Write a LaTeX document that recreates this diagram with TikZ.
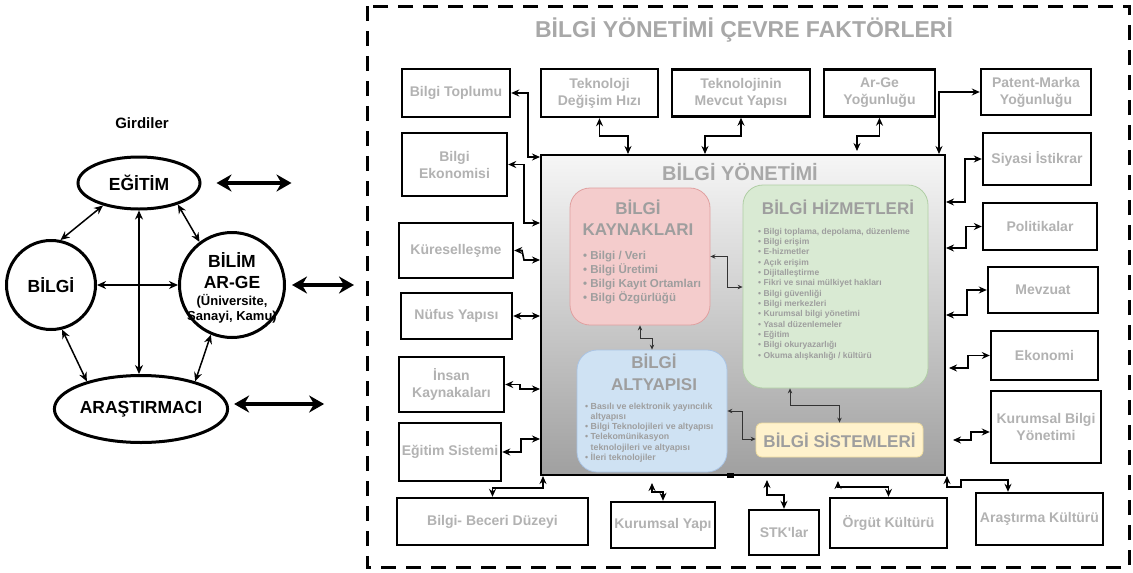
\documentclass[tikz,border=0pt]{standalone}
\usepackage{fontspec}
\setmainfont{Liberation Sans}
\usetikzlibrary{arrows.meta,shapes.geometric,positioning}
\definecolor{soluk}{RGB}{178,178,178}
\definecolor{baslikgri}{RGB}{168,168,168}
\definecolor{icgri}{RGB}{158,158,158}
\definecolor{pembe}{RGB}{244,204,204}
\definecolor{pembecizgi}{RGB}{224,160,160}
\definecolor{yesil}{RGB}{217,234,211}
\definecolor{yesilcizgi}{RGB}{176,206,165}
\definecolor{mavi}{RGB}{207,226,243}
\definecolor{mavicizgi}{RGB}{170,196,228}
\definecolor{sari}{RGB}{255,242,204}
\definecolor{saricizgi}{RGB}{240,222,160}
\definecolor{ustrenk}{RGB}{246,246,246}
\definecolor{altrenk}{RGB}{160,160,160}
\tikzset{kutu/.style={draw=black,line width=2.4pt,fill=white,inner sep=0pt,align=center,
  text=soluk,font=\bfseries\fontsize{14}{17}\selectfont}}
\tikzset{ickutu/.style={line width=0.8pt,rounded corners=20pt,inner sep=0pt}}
\tikzset{yuvarlak/.style={draw=black,line width=3pt,inner sep=0pt,
  font=\bfseries\fontsize{17.5}{20}\selectfont}}
\tikzset{bag/.style={<->,line width=1.6pt,>={Stealth[length=8pt,width=7pt]}}}
\tikzset{icbag/.style={<->,draw=black!80,line width=0.9pt,>={Stealth[length=5pt,width=4.5pt]}}}
\tikzset{gbag/.style={<->,line width=1.5pt,>={Stealth[length=9pt,width=8pt]}}}
\tikzset{kalinok/.style={<->,line width=3.5pt,>={Stealth[length=15pt,width=17pt]}}}
\tikzset{madde/.style={align=left,inner sep=0pt,text=icgri}}

\begin{document}
\begin{tikzpicture}[x=1pt,y=-1pt]
          \useasboundingbox (0,0) rectangle (1133,573);
          % girdiler
          \node[font=\bfseries\fontsize{15}{17}\selectfont] (girdi) at (142,123) {Girdiler};
          \node[yuvarlak,ellipse,minimum width=122pt,minimum height=52pt] (egitim) at (139,183) {EĞİTİM};
          \node[yuvarlak,circle,minimum size=89pt] (bilgi) at (51,285) {BİLGİ};
          \node[yuvarlak,circle,minimum size=105pt] (bilim) at (232,285) {};
          \node[align=center,font=\bfseries\fontsize{17.5}{21}\selectfont] (bilimyazi) at (232,271) {BİLİM\\AR-GE};
          \node[align=center,font=\bfseries\fontsize{13}{14.5}\selectfont] (bilimalt) at (232,309) {(Üniversite,\\Sanayi, Kamu)};
          \node[yuvarlak,ellipse,minimum width=153pt,minimum height=67pt] (arastirmaci) at (141,409) {ARAŞTIRMACI};

          \draw[gbag] (egitim.212) -- (bilgi.78);
          \draw[gbag] (egitim.331) -- (bilim.127);
          \draw[gbag] (bilgi.284) -- (arastirmaci.153);
          \draw[gbag] (bilim.247) -- (arastirmaci.27);
          \draw[gbag] (egitim.south) -- (egitim.south |- arastirmaci.north);
          \draw[gbag] (bilgi.east) -- (bilim.west);

          \draw[kalinok] ([xshift=15pt]egitim.east) -- ++(75,0);
          \draw[kalinok] ([xshift=6pt]bilim.east) -- ++(62,0);
          \draw[kalinok] ([xshift=5pt,yshift=5pt]arastirmaci.east) -- ++(90,0);

          % cevre faktorleri
          \draw[line width=3pt,dash pattern=on 15pt off 10pt] (367,6) rectangle (1129,567);
          \node[font=\bfseries\fontsize{23}{26}\selectfont,text=baslikgri] (cevre) at (744,30) {BİLGİ YÖNETİMİ ÇEVRE FAKTÖRLERİ};

          \node[draw=black,line width=2pt,top color=ustrenk,bottom color=altrenk,minimum width=404pt,minimum height=320pt] (bym) at (743,315) {};
          \node[font=\bfseries\fontsize{20}{22}\selectfont,text=baslikgri] (bymad) at (740,172) {BİLGİ YÖNETİMİ};
          \fill (727,473) rectangle (734,478);

          \node[ickutu,fill=pembe,draw=pembecizgi,minimum width=140pt,minimum height=137pt] (kaynak) at (640,256.5) {};
          \node[ickutu,fill=yesil,draw=yesilcizgi,minimum width=185pt,minimum height=203pt] (hizmet) at (835.5,286.5) {};
          \node[ickutu,fill=mavi,draw=mavicizgi,minimum width=150pt,minimum height=122pt] (altyapi) at (652,411) {};
          \node[ickutu,rounded corners=6pt,fill=sari,draw=saricizgi,minimum width=167pt,minimum height=34pt] (sistem) at (839.5,440) {};

          \node[align=center,text=icgri,font=\bfseries\fontsize{17}{21}\selectfont] (kaynakad) at (638,217.5) {BİLGİ\\KAYNAKLARI};
          \node[text=icgri,font=\bfseries\fontsize{17}{20}\selectfont] (hizmetad) at (838,207) {BİLGİ HİZMETLERİ};
          \node[align=center,text=icgri,font=\bfseries\fontsize{17}{22}\selectfont] (altyapiad) at (654,372) {BİLGİ\\ALTYAPISI};
          \node[text=icgri,font=\bfseries\fontsize{17}{20}\selectfont] (sistemad) at (839.5,440) {BİLGİ SİSTEMLERİ};

          \node[madde,anchor=west,font=\bfseries\fontsize{11.5}{13.7}\selectfont] (kaynakliste) at (583,277.5)
            {\textbullet\ Bilgi / Veri\\\textbullet\ Bilgi Üretimi\\\textbullet\ Bilgi Kayıt Ortamları\\\textbullet\ Bilgi Özgürlüğü};
          \node[madde,anchor=west,font=\bfseries\fontsize{8.5}{10.33}\selectfont] (hizmetliste) at (758,294)
            {\textbullet\ Bilgi toplama, depolama, düzenleme\\\textbullet\ Bilgi erişim\\\textbullet\ E-hizmetler\\
             \textbullet\ Açık erişim\\\textbullet\ Dijitalleştirme\\\textbullet\ Fikri ve sınai mülkiyet hakları\\
             \textbullet\ Bilgi güvenliği\\\textbullet\ Bilgi merkezleri\\\textbullet\ Kurumsal bilgi yönetimi\\
             \textbullet\ Yasal düzenlemeler\\\textbullet\ Eğitim\\\textbullet\ Bilgi okuryazarlığı\\
             \textbullet\ Okuma alışkanlığı / kültürü};
          \node[madde,anchor=west,font=\bfseries\fontsize{8.8}{10.2}\selectfont] (altyapiliste) at (585,432.5)
            {\textbullet\ Basılı ve elektronik yayıncılık\\\hphantom{\textbullet\ }altyapısı\\
             \textbullet\ Bilgi Teknolojileri ve altyapısı\\\textbullet\ Telekomünikasyon\\
             \hphantom{\textbullet\ }teknolojileri ve altyapısı\\\textbullet\ İleri teknolojiler};

          \draw[icbag] (kaynak.east) -- (727,256.5) -- (727,287) -- (hizmet.west |- 0,287);
          \draw[icbag] (kaynak.south) -- (640,338) -- (652,338) -- (altyapi.north);
          \draw[icbag] (altyapi.east) -- (742,411) -- (742,439) -- (sistem.west |- 0,439);
          \draw[icbag] (790,0 |- hizmet.south) -- (790,405) -- (839.5,405) -- (sistem.north);

          % ust
          \node[kutu,minimum width=108pt,minimum height=48pt] (toplum) at (456,93) {Bilgi Toplumu};
          \node[kutu,minimum width=117pt,minimum height=48pt] (hiz) at (599.5,93) {Teknoloji\\Değişim Hızı};
          \node[kutu,minimum width=138pt,minimum height=47pt] (mevcut) at (741,93) {Teknolojinin\\Mevcut Yapısı};
          \node[kutu,minimum width=111pt,minimum height=47pt] (argeyog) at (879.5,93) {Ar-Ge\\Yoğunluğu};
          \node[kutu,minimum width=110pt,minimum height=46pt] (patent) at (1036,92) {Patent-Marka\\Yoğunluğu};
          % sol
          \node[kutu,minimum width=105pt,minimum height=63pt] (ekonomi) at (454.5,164.5) {Bilgi\\Ekonomisi};
          \node[kutu,minimum width=114pt,minimum height=55pt] (kuresel) at (456,250.5) {Küreselleşme};
          \node[kutu,minimum width=111pt,minimum height=46pt] (nufus) at (456.5,316) {Nüfus Yapısı};
          \node[kutu,minimum width=105pt,minimum height=55pt] (insan) at (451.5,384.5) {İnsan\\Kaynakaları};
          \node[kutu,minimum width=102pt,minimum height=58pt] (egsis) at (450,452) {Eğitim Sistemi};
          % sag
          \node[kutu,minimum width=108pt,minimum height=52pt] (siyasi) at (1037,159) {Siyasi İstikrar};
          \node[kutu,minimum width=114pt,minimum height=47pt] (politika) at (1040,226.5) {Politikalar};
          \node[kutu,minimum width=110pt,minimum height=46pt] (mevzuat) at (1043,290) {Mevzuat};
          \node[kutu,minimum width=107pt,minimum height=49pt] (ekonomi2) at (1044.5,355.5) {Ekonomi};
          \node[kutu,minimum width=110pt,minimum height=72pt] (kbyon) at (1046,427) {Kurumsal Bilgi\\Yönetimi};
          % alt
          \node[kutu,minimum width=191pt,minimum height=47pt] (beceri) at (492.5,521.5) {Bilgi- Beceri Düzeyi};
          \node[kutu,minimum width=104pt,minimum height=46pt] (kyapi) at (663,525) {Kurumsal Yapı};
          \node[kutu,minimum width=70pt,minimum height=45pt] (stk) at (784,532.5) {STK\textquotesingle lar};
          \node[kutu,minimum width=117pt,minimum height=50pt] (orgut) at (888.5,523) {Örgüt Kültürü};
          \node[kutu,minimum width=127pt,minimum height=52pt] (arkultur) at (1039.5,519) {Araştırma Kültürü};

          \draw[bag] (toplum.east) -- (528,93) -- (528,157) -- (bym.west |- 0,157);
          \draw[bag] (hiz.south) -- (599.5,136) -- (628,136) -- (628,0 |- bym.north);
          \draw[bag] (mevcut.south) -- (741,136) -- (705,136) -- (705,0 |- bym.north);
          \draw[bag] (argeyog.south) -- (879.5,136) -- (857,136) -- (857,151);
          \draw[bag] (939,0 |- bym.north) -- (939,92) -- (patent.west);

          \draw[bag] (ekonomi.east) -- (524,164.5) -- (524,223) -- (bym.west |- 0,223);
          \draw[bag] (kuresel.east) -- (522,250.5) -- (524,260) -- (bym.west |- 0,260);
          \draw[bag] (nufus.east) -- (bym.west |- nufus.east);
          \draw[bag] (insan.east) -- (520,384.5) -- (520,389) -- (bym.west |- 0,389);
          \draw[bag] (egsis.east) -- (521,452) -- (521,439) -- (bym.west |- 0,439);

          \draw[bag] (siyasi.west) -- (965,159) -- (965,202) -- (bym.east |- 0,202);
          \draw[bag] (politika.west) -- (966,226.5) -- (966,248) -- (bym.east |- 0,248);
          \draw[bag] (mevzuat.west) -- (967,290) -- (967,315) -- (bym.east |- 0,315);
          \draw[bag] (ekonomi2.west) -- (968,355.5) -- (968,368) -- (949,368);
          \draw[bag] (kbyon.west |- 0,432) -- (971,432) -- (971,440) -- (953,440);

          \draw[bag] (beceri.north) -- (492.5,488) -- (543,488) -- (543,0 |- bym.south);
          \draw[bag] (652,483) -- (652,492) -- (663,492) -- (kyapi.north);
          \draw[bag] (767,480) -- (767,495) -- (784,495) -- (stk.north);
          \draw[bag] (838,481) -- (838,487) -- (888.5,487) -- (orgut.north);
          \draw[bag] (947,0 |- bym.south) -- (947,487) -- (961,487) -- (961,480) -- (1008,480) -- (1008,0 |- arkultur.north);
\end{tikzpicture}
\end{document}
